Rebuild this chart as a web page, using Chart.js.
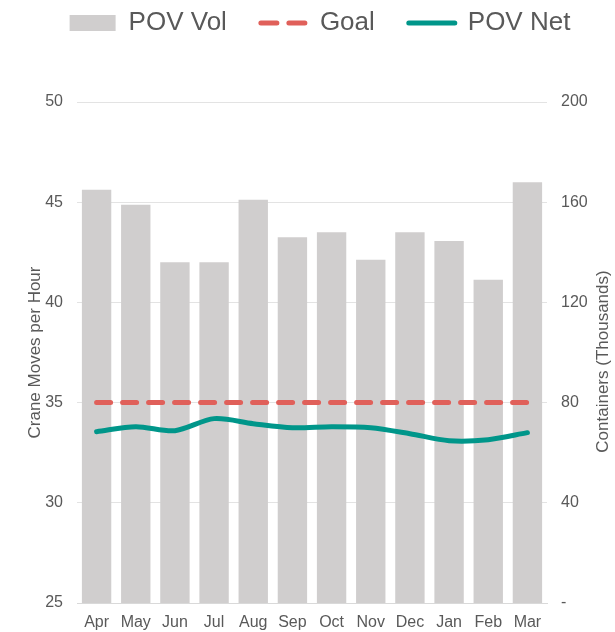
<!DOCTYPE html>
<html>
<head>
<meta charset="utf-8">
<script src="https://cdn.jsdelivr.net/npm/chart.js@4"></script>
<style>
  html, body { margin: 0; padding: 0; background: #ffffff; }
  #wrap { width: 615px; height: 632px; position: relative; }
</style>
</head>
<body>
<div id="wrap"><canvas id="c"></canvas></div>
<script>
// ---- data ----
const months = ['Apr','May','Jun','Jul','Aug','Sep','Oct','Nov','Dec','Jan','Feb','Mar'];
const povVol = [165, 159, 136, 136, 161, 146, 148, 137, 148, 144.5, 129, 168]; // thousands of containers
const goal = [35, 35, 35, 35, 35, 35, 35, 35, 35, 35, 35, 35];
const povNet = [33.55, 33.8, 33.6, 34.2, 33.95, 33.75, 33.8, 33.75, 33.45, 33.1, 33.15, 33.5];
const leftTicks = [25, 30, 35, 40, 45, 50];
const rightTicks = [0, 40, 80, 120, 160, 200];
const leftTitle = 'Crane Moves per Hour';
const rightTitle = 'Containers (Thousands)';

const TXT = '#595959';
const FONT = "'Liberation Sans', Arial, sans-serif";

// right-axis title reads bottom-to-top, as in the reference
const rightTitlePlugin = {
  id: 'rightTitle',
  afterDraw(chart) {
    const ctx = chart.ctx;
    const a = chart.chartArea;
    const s = chart.scales.y1;
    ctx.save();
    ctx.translate(s.right - 12, (a.top + a.bottom) / 2 + 9);
    ctx.rotate(-Math.PI / 2);
    ctx.font = '17px ' + FONT;
    ctx.fillStyle = TXT;
    ctx.textAlign = 'center';
    ctx.textBaseline = 'middle';
    ctx.fillText(rightTitle, 0, 0);
    ctx.restore();
  }
};

new Chart(document.getElementById('c'), {
  type: 'bar',
  plugins: [rightTitlePlugin],
  data: {
    labels: months,
    datasets: [
      {
        label: 'POV Vol',
        data: povVol,
        backgroundColor: '#d0cece',
        borderWidth: 0,
        yAxisID: 'y1',
        barPercentage: 0.75,
        categoryPercentage: 1.0,
        order: 2
      },
      {
        type: 'line',
        label: 'Goal',
        data: goal,
        borderColor: '#e0605a',
        backgroundColor: '#e0605a',
        borderWidth: 5,
        borderDash: [14, 12],
        borderCapStyle: 'round',
        pointRadius: 0,
        fill: false,
        yAxisID: 'y',
        order: 1
      },
      {
        type: 'line',
        label: 'POV Net',
        data: povNet,
        borderColor: '#00968a',
        backgroundColor: '#00968a',
        borderWidth: 5,
        borderCapStyle: 'round',
        borderJoinStyle: 'round',
        tension: 0.3,
        pointRadius: 0,
        fill: false,
        yAxisID: 'y',
        order: 0
      }
    ]
  },
  options: {
    responsive: true,
    maintainAspectRatio: false,
    animation: false,
    layout: { padding: { top: -24, left: 25, right: 0, bottom: 0 } },
    plugins: {
      tooltip: { enabled: false },
      legend: {
        display: true,
        position: 'top',
        weight: 3000,
        labels: {
          usePointStyle: true,
          pointStyleWidth: 46,
          boxHeight: 16,
          padding: 34,
          color: TXT,
          font: { family: FONT, size: 26 },
          sort: (a, b) => a.datasetIndex - b.datasetIndex,
          generateLabels: (chart) => {
            const items = Chart.defaults.plugins.legend.labels.generateLabels(chart);
            items.forEach(it => {
              const ds = chart.data.datasets[it.datasetIndex];
              if (ds.type === 'line') {
                it.pointStyle = 'line';
                it.lineWidth = 5;
                it.lineCap = 'round';
                if (ds.borderDash) it.lineDash = [16, 12];
              } else {
                it.pointStyle = 'rect';
                it.lineWidth = 0;
              }
            });
            return items;
          }
        }
      },
      title: {
        display: true,
        text: '',
        font: { size: 10, lineHeight: 1 },
        padding: { top: 0, bottom: 46 }
      }
    },
    scales: {
      x: {
        afterFit: (s) => { s.height = 29; },
        grid: { display: false, drawTicks: false },
        border: { display: true, color: '#d9d9d9', width: 1 },
        ticks: { color: TXT, font: { family: FONT, size: 16 }, padding: 10, maxRotation: 0, autoSkip: false }
      },
      y: {
        position: 'left',
        min: 25,
        max: 50,
        afterBuildTicks: (s) => { s.ticks = leftTicks.map(v => ({ value: v })); },
        afterFit: (s) => { s.width = 52; },
        grid: { color: '#e3e3e3', lineWidth: 1, drawTicks: false },
        border: { display: false },
        ticks: { color: TXT, font: { family: FONT, size: 16 }, padding: 14 },
        title: {
          display: true,
          text: leftTitle,
          color: TXT,
          font: { family: FONT, size: 17 },
          padding: { top: 0, bottom: 0 }
        }
      },
      y1: {
        position: 'right',
        min: 0,
        max: 200,
        afterBuildTicks: (s) => { s.ticks = rightTicks.map(v => ({ value: v })); },
        afterFit: (s) => { s.width = 68; },
        grid: { display: false, drawTicks: false },
        border: { display: false },
        ticks: {
          color: TXT,
          font: { family: FONT, size: 16 },
          padding: 14,
          callback: (v) => (v === 0 ? '-' : String(v))
        },
        title: { display: false }
      }
    }
  }
});
</script>
</body>
</html>
